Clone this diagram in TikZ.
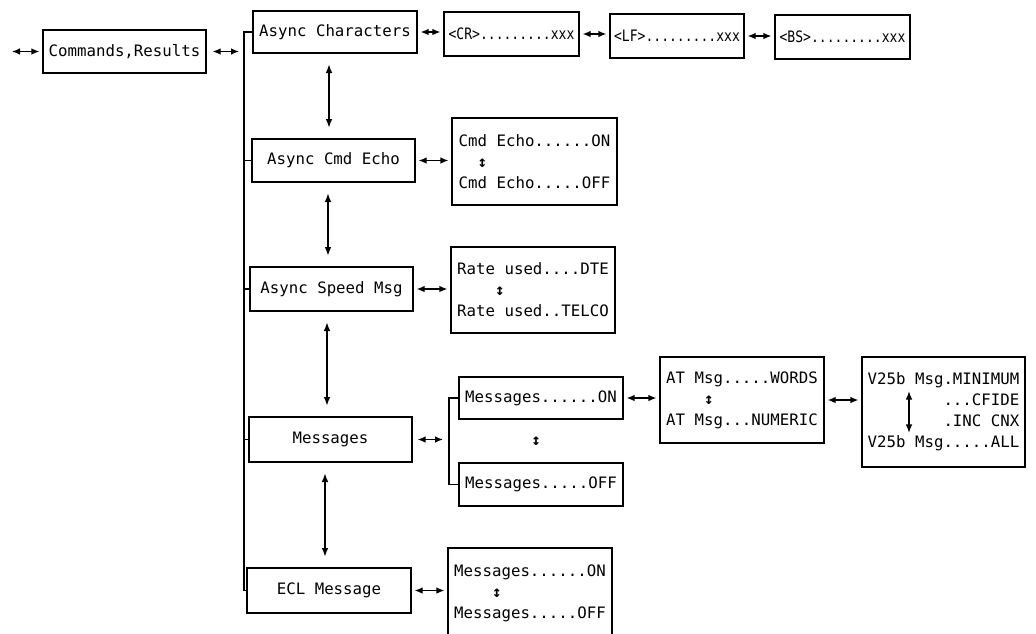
\documentclass[tikz,border=0pt]{standalone}
\usepackage{fontspec}
\usetikzlibrary{arrows.meta,calc}
\newfontfamily\mono{DejaVu Sans Mono}
\newfontfamily\monocond[FakeStretch=0.83]{DejaVu Sans Mono}
\newcommand\monotext{\mono\fontsize{11.8}{15.8}\selectfont}
\newcommand\mononarrow{\monocond\fontsize{11.8}{15.8}\selectfont}
\newcommand\updn{{\bfseries ↕}}
\begin{document}
\begin{tikzpicture}[x=0.75pt,y=-0.75pt,
  line width=1pt,
  box/.style={draw, inner sep=0pt, font=\monotext, align=left},
  sz/.style 2 args={minimum width=#1*0.75pt, minimum height=#2*0.75pt},
  dar/.style={{Latex[length=6pt,width=5pt]}-{Latex[length=6pt,width=5pt]},
              shorten <=2.25pt, shorten >=2.25pt},
  vdar/.style={{Latex[length=6.5pt,width=5pt]}-{Latex[length=6.5pt,width=5pt]},
              shorten <=8pt, shorten >=8pt}]
\useasboundingbox (0,0) rectangle (1036,633);
\clip (0,0) rectangle (1036,633);

% main menu column
\node[box, sz={163}{43}] (cmd) at (124.5,51.5) {Commands,Results};
\node[box, sz={164}{42}] (ac)  at (335,32)     {Async Characters};
\node[box, sz={163}{43}] (ace) at (333.5,160.5) {Async Cmd Echo};
\node[box, sz={163}{44}] (asm) at (331.5,289)  {Async Speed Msg};
\node[box, sz={163}{45}] (msg) at (330.5,439.5) {Messages};
\node[box, sz={164}{45}] (ecl) at (329,590.5)  {ECL Message};

% character settings
\node[box, font=\mononarrow, sz={135}{44}] (cr) at (511.5,34) {<CR>.........xxx};
\node[box, font=\mononarrow, sz={134}{44}] (lf) at (677,36)   {<LF>.........xxx};
\node[box, font=\mononarrow, sz={135}{44}] (bs) at (842.5,37) {<BS>.........xxx};

% option boxes
\node[box, sz={165}{87}] (ceopt) at (534.5,161.5)
  {Cmd Echo......ON\\\hphantom{Cm}\updn\\Cmd Echo.....OFF};
\node[box, sz={164}{86}] (rate) at (533,290)
  {Rate used....DTE\\\hphantom{Rate}\updn\\Rate used..TELCO};
\node[box, sz={164}{42}] (on)  at (541,398)   {Messages......ON};
\node[box, sz={164}{43}] (off) at (541,484.5) {Messages.....OFF};
\node[font=\monotext] (onoff) at (536,441) {\updn};
\node[box, sz={164}{86}] (at) at (742,400)
  {AT Msg.....WORDS\\\hphantom{AT M}\updn\\AT Msg...NUMERIC};
\node[box, sz={163}{110}, align=right] (v25) at (943.5,412)
  {V25b Msg.MINIMUM\\...CFIDE\\.INC CNX\\V25b Msg.....ALL};
\node[box, sz={164}{91}] (eclopt) at (530,593.5)
  {Messages......ON\\\hphantom{Mess}\updn\\Messages.....OFF};

% bus lines
\coordinate (bus) at (244,0);
\coordinate (sub) at (449,0);
\draw (ac.west) -- (ac.west -| bus) -- (ecl.west -| bus) -- (ecl.west);
\draw (ace.west -| bus) -- (ace.west);
\draw (asm.west -| bus) -- (asm.west);
\draw (msg.west -| bus) -- (msg.west);
\draw (on.west) -- (on.west -| sub) -- (off.west -| sub) -- (off.west);

% horizontal connectors
\coordinate (inlet) at (12,51.5);
\draw[dar, shorten <=0pt] (inlet) -- (cmd.west);
\draw[dar, shorten <=4.5pt, shorten >=3.75pt] (cmd.east) -- (cmd.east -| bus);
\draw[dar] (ac.east) -- (ac.east -| cr.west);
\draw[dar] (cr.east) -- (cr.east -| lf.west);
\draw[dar] (lf.east) -- (lf.east -| bs.west);
\draw[dar] (ace.east) -- (ace.east -| ceopt.west);
\draw[dar] (asm.east) -- (asm.east -| rate.west);
\draw[dar, shorten <=3.75pt, shorten >=4.5pt] (msg.east) -- (msg.east -| sub);
\draw[dar] (on.east) -- (on.east -| at.west);
\draw[dar] (at.east) -- (at.east -| v25.west);
\draw[dar] (ecl.east) -- (ecl.east -| eclopt.west);

% vertical connectors
\coordinate (v1) at (329,0);
\coordinate (v2) at (328,0);
\coordinate (v3) at (327,0);
\coordinate (v4) at (325,0);
\draw[vdar] (ac.south -| v1) -- (ace.north -| v1);
\draw[vdar] (ace.south -| v2) -- (asm.north -| v2);
\draw[vdar] (asm.south -| v3) -- (msg.north -| v3);
\draw[vdar] (msg.south -| v4) -- (ecl.north -| v4);

% arrow inside the V25b box
\draw[vdar, shorten <=0pt, shorten >=0pt]
  ($(v25.center)+(-34.5,-21)$) -- ($(v25.center)+(-34.5,21)$);
\end{tikzpicture}
\end{document}
